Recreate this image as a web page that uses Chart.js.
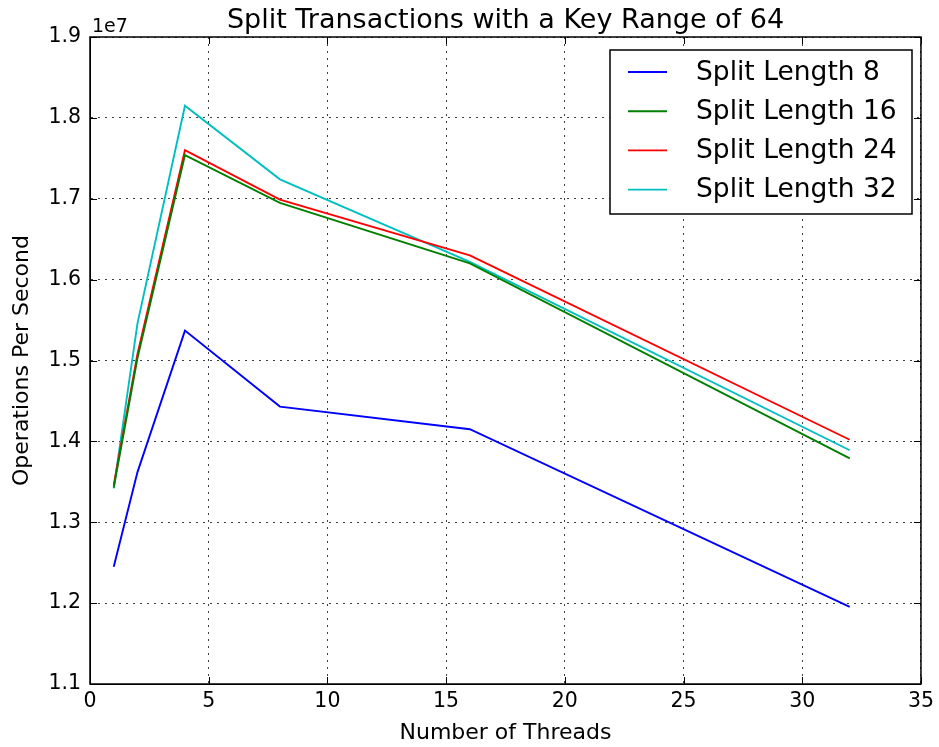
<!DOCTYPE html>
<html>
<head>
<meta charset="utf-8">
<script src="https://cdn.jsdelivr.net/npm/chart.js@4/dist/chart.umd.min.js"></script>
<style>
  html, body { margin: 0; padding: 0; background: #fff; }
  #chart { display: block; }
</style>
</head>
<body>
<canvas id="chart" width="939" height="747"></canvas>
<script>
// values
const threads = [1, 2, 4, 8, 16, 32];
const split8  = [12450000, 13620000, 15370000, 14430000, 14150000, 11955000];
const split16 = [13430000, 15030000, 17540000, 16950000, 16200000, 13790000];
const split24 = [13460000, 15080000, 17600000, 16990000, 16300000, 14020000];
const split32 = [13420000, 15460000, 18150000, 17240000, 16220000, 13890000];
const seriesLabels = ['Split Length 8', 'Split Length 16', 'Split Length 24', 'Split Length 32'];
const seriesColors = ['#0000ff', '#008000', '#ff0000', '#00bfbf'];
const xTicks = [0, 5, 10, 15, 20, 25, 30, 35];
const yTicks = [11000000, 12000000, 13000000, 14000000, 15000000, 16000000, 17000000, 18000000, 19000000];

const FONT = 'DejaVu Sans';

function toPoints(values) {
    return values.map((v, i) => ({ x: threads[i], y: v }));
}

const datasets = [split8, split16, split24, split32].map((vals, i) => ({
    label: seriesLabels[i],
    data: toPoints(vals),
    borderColor: seriesColors[i],
    backgroundColor: seriesColors[i],
    borderWidth: 1.9,
    pointRadius: 0,
    tension: 0,
    fill: false
}));

// frame, inward ticks, title, offset label and legend (matplotlib look)
const decorations = {
    id: 'decorations',
    afterDraw(chart) {
        const ctx = chart.ctx;
        const area = chart.chartArea;
        const xs = chart.scales.x;
        const ys = chart.scales.y;
        ctx.save();

        // tick marks on all four sides, pointing in
        ctx.strokeStyle = '#000';
        ctx.lineWidth = 1;
        const tl = 7;
        xTicks.forEach(t => {
            const px = Math.round(xs.getPixelForValue(t)) + 0.5;
            ctx.beginPath();
            ctx.moveTo(px, area.bottom); ctx.lineTo(px, area.bottom - tl);
            ctx.moveTo(px, area.top); ctx.lineTo(px, area.top + tl);
            ctx.stroke();
        });
        yTicks.forEach(t => {
            const py = Math.round(ys.getPixelForValue(t)) + 0.5;
            ctx.beginPath();
            ctx.moveTo(area.left, py); ctx.lineTo(area.left + tl, py);
            ctx.moveTo(area.right, py); ctx.lineTo(area.right - tl, py);
            ctx.stroke();
        });

        // frame
        ctx.lineWidth = 1.5;
        ctx.strokeRect(area.left, area.top, area.right - area.left, area.bottom - area.top);

        // title
        ctx.fillStyle = '#000';
        ctx.font = '27px "' + FONT + '"';
        ctx.textAlign = 'center';
        ctx.textBaseline = 'alphabetic';
        ctx.fillText('Split Transactions with a Key Range of 64', (area.left + area.right) / 2, 28);

        // offset text
        ctx.font = '19px "' + FONT + '"';
        ctx.textAlign = 'left';
        ctx.fillText('1e7', area.left + 2, 32);

        // legend
        const bx = 610, by = 50, bw = 302, bh = 164;
        ctx.fillStyle = '#fff';
        ctx.fillRect(bx, by, bw, bh);
        ctx.strokeStyle = '#000';
        ctx.lineWidth = 1.5;
        ctx.strokeRect(bx, by, bw, bh);
        ctx.font = '26.5px "' + FONT + '"';
        ctx.textBaseline = 'middle';
        chart.data.datasets.forEach((ds, i) => {
            const ry = 72 + i * 39.2;
            ctx.strokeStyle = ds.borderColor;
            ctx.lineWidth = 1.9;
            ctx.beginPath();
            ctx.moveTo(628, ry); ctx.lineTo(667, ry);
            ctx.stroke();
            ctx.fillStyle = '#000';
            ctx.fillText(ds.label, 696, ry + 1);
        });
        ctx.restore();
    }
};

const gridOpts = {
    color: 'rgba(0,0,0,0.75)',
    lineWidth: 1,
    drawTicks: false,
    borderDash: [2, 5]
};

new Chart(document.getElementById('chart').getContext('2d'), {
    type: 'line',
    data: { datasets: datasets },
    options: {
        responsive: false,
        animation: false,
        events: [],
        layout: { padding: { top: 37, right: 16, left: 0, bottom: 0 } },
        plugins: {
            legend: { display: false },
            title: { display: false },
            tooltip: { enabled: false }
        },
        scales: {
            x: {
                type: 'linear',
                min: 0,
                max: 35,
                afterBuildTicks: scale => { scale.ticks = xTicks.map(v => ({ value: v })); },
                afterFit: scale => { scale.height = 63; },
                ticks: {
                    color: '#000',
                    font: { family: FONT, size: 20.5 },
                    padding: 5,
                    maxRotation: 0
                },
                grid: gridOpts,
                border: { display: true, color: '#000', dash: [2, 5] },
                title: {
                    display: true,
                    text: 'Number of Threads',
                    color: '#000',
                    font: { family: FONT, size: 22 },
                    padding: { top: 0, bottom: 1 }
                }
            },
            y: {
                type: 'linear',
                min: 11000000,
                max: 19000000,
                afterBuildTicks: scale => { scale.ticks = yTicks.map(v => ({ value: v })); },
                afterFit: scale => { scale.width = 90; },
                ticks: {
                    color: '#000',
                    font: { family: FONT, size: 20.5 },
                    padding: 9,
                    callback: v => (v / 1e7).toFixed(1)
                },
                grid: gridOpts,
                border: { display: true, color: '#000', dash: [2, 5] },
                title: {
                    display: true,
                    text: 'Operations Per Second',
                    color: '#000',
                    font: { family: FONT, size: 22 },
                    padding: { top: 9, bottom: 0 }
                }
            }
        }
    },
    plugins: [decorations]
});
</script>
</body>
</html>
